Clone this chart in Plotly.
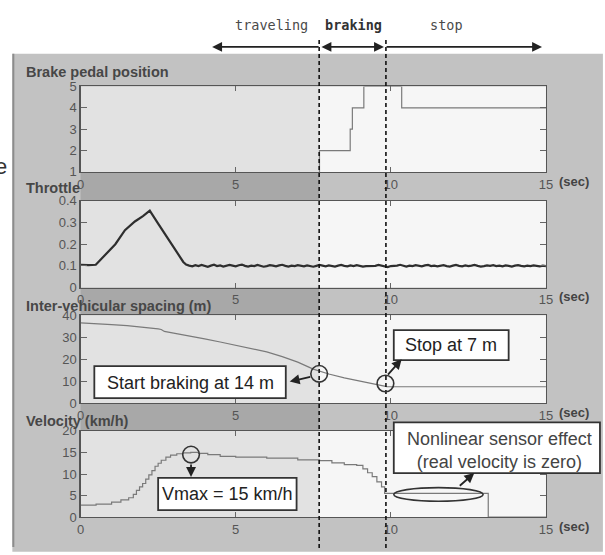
import plotly.graph_objects as go

# ---------------- data ----------------
brake_t = [0, 7.7, 8.69, 8.76, 9.13, 10.35, 15]
brake_v = [0, 2, 3, 4, 5, 4, 4]

throttle_head_t = [0, 0.25, 0.49, 0.8, 1.12, 1.43, 1.75, 2.01, 2.23, 2.5, 2.8, 3.05, 3.31]
throttle_head_v = [0.105, 0.103, 0.105, 0.15, 0.2, 0.265, 0.305, 0.33, 0.355, 0.295, 0.232, 0.175, 0.118]
throttle_tail_start = 3.4
throttle_tail_step = 0.1
throttle_tail_v = [
    0.106, 0.101, 0.098, 0.103, 0.099, 0.104, 0.100, 0.096, 0.101, 0.105,
    0.099, 0.102, 0.097, 0.100, 0.104, 0.101, 0.098, 0.103, 0.106, 0.100,
    0.097, 0.101, 0.099, 0.104, 0.100, 0.096, 0.099, 0.103, 0.101, 0.098,
    0.102, 0.105, 0.100, 0.097, 0.101, 0.099, 0.103, 0.100, 0.098, 0.102,
    0.099, 0.096, 0.100, 0.104, 0.101, 0.098, 0.102, 0.100, 0.097, 0.101,
    0.104, 0.100, 0.098, 0.102, 0.099, 0.103, 0.101, 0.097, 0.099, 0.099,
    0.102, 0.100, 0.104, 0.101, 0.095, 0.094, 0.099, 0.099, 0.101, 0.105,
    0.100, 0.097, 0.101, 0.099, 0.103, 0.100, 0.098, 0.102, 0.104, 0.099,
    0.101, 0.098, 0.100, 0.103, 0.099, 0.097, 0.101, 0.104, 0.100, 0.098,
    0.102, 0.099, 0.101, 0.104, 0.100, 0.097, 0.099, 0.102, 0.100, 0.103,
    0.099, 0.101, 0.098, 0.102, 0.100, 0.097, 0.101, 0.103, 0.100, 0.098,
    0.101, 0.099, 0.102, 0.100, 0.098, 0.101, 0.099]

spacing_t = [0, 0.5, 1.0, 1.5, 2.0, 2.5, 2.6, 2.7, 3.0, 3.5, 4.0, 4.5, 5.0, 5.5, 6.0,
             6.5, 7.0, 7.5, 7.7, 8.0, 8.5, 9.0, 9.5, 9.87, 10.5, 15]
spacing_v = [36.5, 36.2, 35.7, 35.2, 34.6, 33.8, 33.5, 32.6, 31.8, 30.6, 29.2, 27.8, 26.4, 24.9, 23.3,
             21.2, 18.7, 15.5, 14.6, 13.3, 11.5, 10.0, 8.6, 7.6, 7.5, 7.5]

velocity_t = [0, 0.5, 1.0, 1.3, 1.55, 1.7, 1.8, 1.9, 2.0, 2.1, 2.2, 2.3, 2.4, 2.5, 2.6, 2.75,
              2.9, 3.1, 3.3, 3.55, 3.8, 4.1, 4.5, 5.0, 6.0, 7.0, 7.7, 8.1, 8.5, 8.9, 9.1,
              9.25, 9.4, 9.55, 9.7, 9.8, 13.14, 15]
velocity_v = [2.8, 3.0, 3.5, 4.0, 4.5, 5.3, 6.2, 7.0, 7.8, 8.8, 9.8, 10.8, 11.8, 12.5, 13.2, 13.9,
              14.4, 14.7, 14.9, 15.0, 14.8, 14.5, 14.1, 13.9, 13.7, 13.3, 13.1, 12.6, 12.2, 12.0, 11.2,
              10.3, 9.4, 8.2, 7.0, 5.5, 0, 0]

x_ticks = [0, 5, 10, 15]
panel_titles = ["Brake pedal position", "Throttle", "Inter-vehicular spacing (m)", "Velocity (km/h)"]
y_ranges = [[1, 5], [0, 0.4], [0, 40], [0, 20]]
y_ticks = [[1, 2, 3, 4, 5], [0, 0.1, 0.2, 0.3, 0.4], [0, 10, 20, 30, 40], [0, 5, 10, 15, 20]]
y_ticktext = [["1", "2", "3", "4", "5"], ["0", "0.1", "0.2", "0.3", "0.4"],
              ["0", "10", "20", "30", "40"], ["0", "5", "10", "15", "20"]]

# ---------------- geometry helpers (pixel -> paper) ----------------
W, H = 605, 555
def P(x):
    return x / W
def Q(y):
    return 1 - y / H

PL, PR = 78, 552
plots_px = [(81.7, 169.5), (199.3, 288.3), (316.7, 407.3), (435.7, 524.3)]
DASH1, DASH2 = 321, 389

throttle_t = throttle_head_t + [throttle_tail_start + i * throttle_tail_step for i in range(len(throttle_tail_v))]
throttle_v = throttle_head_v + throttle_tail_v

fig = go.Figure()
series = [
    (brake_t, brake_v, "hv", "#7a7a7a", 1.2),
    (throttle_t, throttle_v, "linear", "#2e2e2e", 2.2),
    (spacing_t, spacing_v, "linear", "#7a7a7a", 1.2),
    (velocity_t, velocity_v, "hv", "#7a7a7a", 1.2),
]
for i, (tx, vy, shp, col, w) in enumerate(series):
    k = "" if i == 0 else str(i + 1)
    fig.add_trace(go.Scatter(x=tx, y=vy, mode="lines", line=dict(color=col, width=w, shape=shp),
                             xaxis="x" + k, yaxis="y" + k, showlegend=False, hoverinfo="skip"))

layout = dict(width=W, height=H, autosize=False, margin=dict(l=0, r=0, t=0, b=0),
              paper_bgcolor="white", plot_bgcolor="rgba(0,0,0,0)", showlegend=False)
tickfont = dict(family="Liberation Sans", size=13, color="#555555")
for i in range(4):
    k = "" if i == 0 else str(i + 1)
    top, bot = plots_px[i]
    layout["xaxis" + k] = dict(domain=[P(PL), P(PR)], anchor="y" + k, range=[0, 15],
                               tickvals=x_ticks, ticktext=[str(v) for v in x_ticks],
                               ticks="inside", ticklen=5, tickcolor="#666", mirror="ticks",
                               showline=True, linecolor="#555", linewidth=1.2,
                               showgrid=False, zeroline=False, tickfont=tickfont, fixedrange=True)
    layout["yaxis" + k] = dict(domain=[Q(bot), Q(top)], anchor="x" + k, range=y_ranges[i],
                               tickvals=y_ticks[i], ticktext=y_ticktext[i],
                               ticks="inside", ticklen=6, tickcolor="#666", mirror="ticks",
                               showline=True, linecolor="#555", linewidth=1.2,
                               showgrid=False, zeroline=False, tickfont=tickfont, fixedrange=True)

shapes = []
def rect(x0, y0, x1, y1, fill, layer="below", line=None):
    d = dict(type="rect", xref="paper", yref="paper", x0=P(x0), x1=P(x1), y0=Q(y1), y1=Q(y0),
             fillcolor=fill, layer=layer, line=line or dict(width=0))
    shapes.append(d)

# gray panel
rect(8.5, 48, 610, 560, "#c2c2c2")
shapes.append(dict(type="line", xref="paper", yref="paper", x0=P(9.5), x1=P(9.5), y0=Q(555), y1=Q(48),
                   line=dict(color="#8c8c8c", width=2), layer="below"))
# darker tick-label bands in traveling region
for (a, b) in [(169.5, 199.3), (288.3, 316.7), (407.3, 435.7)]:
    rect(PL, a, DASH1, b, "#a8a8a8")
# plot backgrounds
for (top, bot) in plots_px:
    rect(PL, top, DASH1, bot, "#e2e2e2")
    rect(DASH1, top, PR, bot, "#f6f6f6")

# dashed phase lines
for xd in (DASH1, DASH2):
    shapes.append(dict(type="line", xref="paper", yref="paper", x0=P(xd), x1=P(xd), y0=Q(556), y1=Q(33),
                       line=dict(color="#111111", width=1.6, dash="4px,3px"), layer="above"))

# annotation boxes
box_line = dict(color="#333333", width=1.8)
rect(92, 369, 287, 402, "white", "above", box_line)
rect(397, 332, 514, 363, "white", "above", box_line)
rect(157, 484, 298, 517, "white", "above", box_line)
rect(397, 427, 607, 479, "white", "above", box_line)

def circ(cx, cy, rx, ry):
    shapes.append(dict(type="circle", xref="paper", yref="paper", x0=P(cx - rx), x1=P(cx + rx),
                       y0=Q(cy + ry), y1=Q(cy - ry), line=dict(color="#333333", width=1.6), layer="above"))
circ(321, 377, 8.5, 8.5)
circ(388.5, 387, 8.5, 8.5)
circ(190.5, 460, 8.5, 8.5)
circ(442.5, 501, 45.5, 7)
layout["shapes"] = shapes

ann = []
def arrow(hx, hy, tx, ty, both=False):
    d = dict(xref="paper", yref="paper", x=P(hx), y=Q(hy), ax=tx - hx, ay=ty - hy, text="",
             showarrow=True, arrowhead=2, arrowsize=1.1, arrowwidth=1.8, arrowcolor="#222222", standoff=0)
    if both:
        d["arrowside"] = "end+start"
        d["startarrowhead"] = 2
        d["startarrowsize"] = 1.1
    ann.append(d)

def text(x, y, s, size, color="#222222", family="Liberation Sans", weight="normal", xanchor="center"):
    ann.append(dict(xref="paper", yref="paper", x=P(x), y=Q(y), text=s, showarrow=False,
                    xanchor=xanchor, yanchor="middle",
                    font=dict(family=family, size=size, color=color, weight=weight)))

# phase header
text(272, 18, "traveling", 13.5, "#4a4a4a", "DejaVu Sans Mono")
text(356, 18, "braking", 13.5, "#333333", "DejaVu Sans Mono", "bold")
text(451, 18, "stop", 13.5, "#4a4a4a", "DejaVu Sans Mono")
arrow(212, 41, 320, 41)
arrow(387, 41, 323, 41, both=True)
arrow(548, 41, 391, 41)

# panel titles and (sec) labels
title_y = [67, 186, 307, 426]
for i in range(4):
    text(20.7, title_y[i], panel_titles[i], 14.5, "#474747", "Liberation Sans", "bold", "left")
    text(563, plots_px[i][1] + 9.5, "(sec)", 13, "#444444", "Liberation Sans", "bold", "left")

# callouts
text(190, 386, "Start braking at 14 m", 18, "#222222")
text(455.5, 347.5, "Stop at 7 m", 18, "#222222")
text(227.5, 500.5, "Vmax = 15 km/h", 18, "#222222")
text(505, 456, "Nonlinear sensor effect<br>(real velocity is zero)", 18, "#444444")
arrow(291, 385, 313, 380)
arrow(405, 362, 390, 379)
arrow(190.5, 483, 190.5, 469)
arrow(479, 479, 463, 493)

# cropped letter at left edge
text(5, 164, "e", 22, "#333333", "Liberation Sans", "normal", "right")

layout["annotations"] = ann
fig.update_layout(**layout)
fig.write_html("out.html", config={"staticPlot": True, "displayModeBar": False},
               post_script="document.body.style.margin='0';document.body.style.padding='0';"
                           "document.documentElement.style.overflow='hidden';")
